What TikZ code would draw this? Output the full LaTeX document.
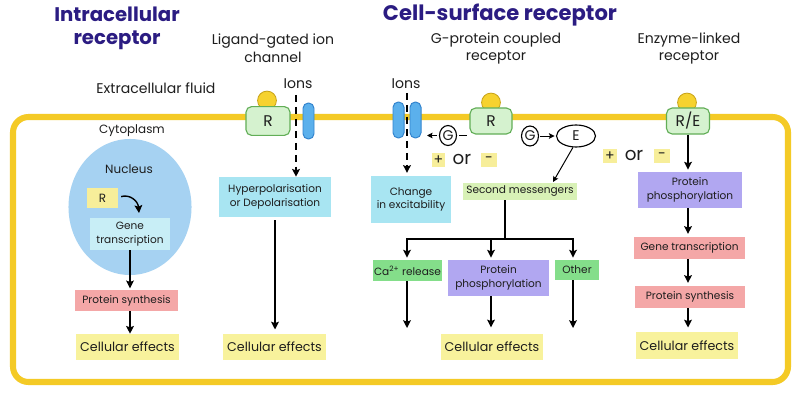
\documentclass[tikz,border=0pt]{standalone}
\usepackage{fontspec}
\setmainfont{Poppins}
\usetikzlibrary{arrows.meta,shapes.geometric}
\definecolor{navy}{HTML}{2B1C82}
\definecolor{memb}{HTML}{F4CA26}
\definecolor{recf}{HTML}{D5F2CF}
\definecolor{recb}{HTML}{62AE57}
\definecolor{ligf}{HTML}{F6D22F}
\definecolor{ligb}{HTML}{C9A41A}
\definecolor{chanf}{HTML}{5BB0EC}
\definecolor{chanb}{HTML}{3384CE}
\definecolor{cyanb}{HTML}{A8E5F2}
\definecolor{nucf}{HTML}{A6D2F2}
\definecolor{genec}{HTML}{C8EEF6}
\definecolor{pinkb}{HTML}{F4A7A7}
\definecolor{yelb}{HTML}{F8F29C}
\definecolor{purpb}{HTML}{B1A7F1}
\definecolor{grnb}{HTML}{84DE8A}
\definecolor{smg}{HTML}{D8F1B6}
\definecolor{ryel}{HTML}{F7EE9A}
\definecolor{txt}{HTML}{1E1E1E}
\newcommand\fsz[2]{\fontsize{#1pt}{#2pt}\selectfont}
\begin{document}
\begin{tikzpicture}[x=0.025cm,y=-0.025cm,
  every node/.style={inner sep=0pt, text=txt},
  arr/.style={-{Stealth[length=5.5pt,width=5.5pt,inset=1pt]}, line width=1pt, draw=black},
  sarr/.style={-{Stealth[length=4pt,width=4pt,inset=0.8pt]}, line width=0.7pt, draw=black},
  dsh/.style={dash pattern=on 5pt off 3.5pt},
  bx/.style={rectangle, align=center},
  sub/.style={align=center, font=\fsz{10}{12.5}},
  ttl/.style={align=center, font=\fsz{14}{16.5}\bfseries, text=navy},
  ce/.style={bx, fill=yelb, minimum width=2.55cm, minimum height=0.65cm, font=\fsz{9}{11}},
  sm7/.style={bx, font=\fsz{7.5}{9.5}},
  rec/.style={rectangle, draw=recb, fill=recf, line width=0.8pt, rounded corners=4pt, font=\fsz{11}{12}},
  lig/.style={circle, draw=ligb, fill=ligf, line width=0.6pt, minimum size=0.47cm},
  chan/.style={rectangle, draw=chanb, fill=chanf, line width=0.7pt, rounded corners=3.8pt, minimum width=0.275cm, minimum height=0.9cm},
  gcirc/.style={ellipse, draw=black, fill=white, line width=0.8pt, minimum width=0.425cm, minimum height=0.5cm, font=\fsz{10}{11}},
  pm/.style={bx, fill=ryel, minimum height=0.35cm, font=\fsz{10}{11}}
]
\useasboundingbox (0,0) rectangle (800,400);
\fill[white] (0,0) rectangle (800,400);

% titles
\node[ttl] (tIntra) at (117,28.5) {Intracellular\\receptor};
\node[ttl, font=\fsz{15}{17}\bfseries] (tCell) at (500,15) {Cell-surface receptor};
\node[sub] (tLG) at (273,48.5) {Ligand-gated ion\\channel};
\node[sub] (tGP) at (496,48.5) {G-protein coupled\\receptor};
\node[sub] (tEL) at (689,48.5) {Enzyme-linked\\receptor};
\node[sub] (tEx) at (156,88) {Extracellular fluid};
\node[sub] (ionsA) at (298,84) {Ions};
\node[sub] (ionsB) at (406,84) {Ions};

% membrane
\draw[memb, line width=4.3pt, rounded corners=11pt] (13,117) rectangle (788,382);
\node[font=\fsz{8.5}{10}] (cyto) at (132,131) {Cytoplasm};

% intracellular
\node[ellipse, fill=nucf, minimum width=3.075cm, minimum height=3.4cm] (nuc) at (130,207) {};
\node[font=\fsz{8.5}{10}] (nuclbl) at (129,169) {Nucleus};
\node[bx, fill=ryel, minimum width=0.775cm, minimum height=0.5cm, font=\fsz{8.5}{10}] (rsm) at (102.5,198) {R};
\node[sm7, fill=genec, minimum width=2cm, minimum height=0.8cm] (gene) at (130,234) {Gene\\transcription};
\coordinate (ctip) at (139,213);
\draw[arr] ([xshift=2pt,yshift=1pt]rsm.east) .. controls (130,194) and (138,201) .. (ctip);
\node[sm7, fill=pinkb, minimum width=2.575cm, minimum height=0.525cm] (psA) at (126.5,300.5) {Protein synthesis};
\node[ce] (ceA) at (127.5,347) {Cellular effects};
\draw[arr, shorten >=1pt] (gene.south) -- (gene.south |- psA.north);
\draw[arr] (gene.south |- psA.south) -- (gene.south |- ceA.north);

% ligand-gated
\node[lig] (ligA) at (267,100.5) {};
\node[rec, minimum width=1.1cm, minimum height=0.72cm] (rA) at (268,121) {R};
\node[chan] (chA) at (308.5,121) {};
\coordinate (dA) at (296,95);
\node[sm7, fill=cyanb, minimum width=2.8cm, minimum height=1cm] (hyp) at (275,197) {Hyperpolarisation\\or Depolarisation};
\draw[arr, dsh] (dA) -- (dA |- hyp.north);
\node[ce] (ceB) at (274.5,347) {Cellular effects};
\draw[arr, shorten <=2pt, shorten >=3pt] (hyp.south) -- (hyp.south |- ceB.north);

% G-protein coupled
\node[chan] (chB1) at (398.5,120) {};
\node[chan] (chB2) at (415.5,120) {};
\coordinate (dB) at (407,93);
\node[sm7, fill=cyanb, minimum width=2cm, minimum height=1.175cm] (chg) at (411,199.5) {Change\\in excitability};
\draw[arr, dsh, shorten >=2pt] (dB) -- (dB |- chg.north);
\node[lig] (ligB) at (491,102.5) {};
\node[rec, minimum width=1.05cm, minimum height=0.65cm] (rB) at (491,121) {R};
\node[gcirc] (gL) at (448,135.5) {G};
\node[gcirc] (gR) at (530,136) {G};
\node[ellipse, draw=black, fill=white, line width=0.8pt, minimum width=0.975cm, minimum height=0.55cm, font=\fsz{10}{11}] (eB) at (576,136) {E};
\coordinate (gla) at (427,135.5);
\draw[sarr, shorten <=1.5pt] (gL.west) -- (gla);
\draw[line width=0.7pt, shorten <=1.5pt, shorten >=2pt] (gL.east) -- (gL.east -| rB.west);
\draw[sarr, shorten <=1pt, shorten >=1pt] (gR) -- (eB);
\node[pm, minimum width=0.325cm] (plusB) at (438.5,160) {+};
\node[font=\fsz{13}{14}] (orB) at (462,159) {or};
\node[pm, minimum width=0.4cm] (minB) at (489,160) {-};
\node[sm7, fill=smg, minimum width=2.85cm, minimum height=0.425cm] (sm) at (520,191.5) {Second messengers};
\coordinate (smt) at (553,182);
\draw[sarr] (eB.255) -- (smt);
\coordinate (tj) at (505,239);
\coordinate (tjL) at (407,239);
\coordinate (tjM) at (491,239);
\coordinate (tjR) at (573,239);
\draw[line width=1pt] (sm.south -| tj) -- (tj);
\draw[line width=1pt] (tjL) -- (tjR);
\node[sm7, fill=grnb, minimum width=1.725cm, minimum height=0.525cm] (ca) at (407.5,270.5) {Ca\textsuperscript{2+} release};
\node[sm7, fill=purpb, minimum width=2.525cm, minimum height=0.9cm] (pp) at (498.5,278) {Protein\\phosphorylation};
\node[sm7, fill=grnb, minimum width=1.1cm, minimum height=0.5cm] (oth) at (577,270) {Other};
\draw[arr, shorten >=1.5pt] ([yshift=0.5pt]tjL) -- (tjL |- ca.north);
\draw[arr, shorten >=1.5pt] (tjM) -- (tjM |- pp.north);
\draw[arr, shorten >=1.5pt] ([yshift=0.5pt]tjR) -- (tjR |- oth.north);
\node[ce] (ceC) at (492,347) {Cellular effects};
\coordinate (caend) at (407,328);
\coordinate (othend) at (573,328);
\draw[arr] (caend |- ca.south) -- (caend);
\draw[arr, shorten >=4.5pt] (tjM |- pp.south) -- (tjM |- ceC.north);
\draw[arr] (othend |- oth.south) -- (othend);

% enzyme-linked
\node[lig] (ligE) at (687,102.5) {};
\node[rec, minimum width=1.075cm, minimum height=0.65cm] (re) at (688,121) {R/E};
\node[pm, minimum width=0.35cm] (plusE) at (610,156) {+};
\node[font=\fsz{13}{14}] (orE) at (634,155) {or};
\node[pm, minimum width=0.4cm] (minE) at (662,156) {-};
\node[sm7, fill=purpb, minimum width=2.6cm, minimum height=0.9cm] (ppE) at (690,190) {Protein\\phosphorylation};
\node[sm7, fill=pinkb, minimum width=2.775cm, minimum height=0.55cm] (gtE) at (689.5,248) {Gene transcription};
\node[sm7, fill=pinkb, minimum width=2.75cm, minimum height=0.55cm] (psE) at (690,297) {Protein synthesis};
\node[ce, minimum height=0.675cm] (ceE) at (687,345.5) {Cellular effects};
\draw[arr, shorten >=1.5pt] (re.south) -- (re.south |- ppE.north);
\draw[arr, shorten >=2pt] (re |- ppE.south) -- (re |- gtE.north);
\draw[arr, shorten >=2pt] (re |- gtE.south) -- (re |- psE.north);
\draw[arr, shorten >=3pt] (re |- psE.south) -- (re |- ceE.north);
\end{tikzpicture}
\end{document}
